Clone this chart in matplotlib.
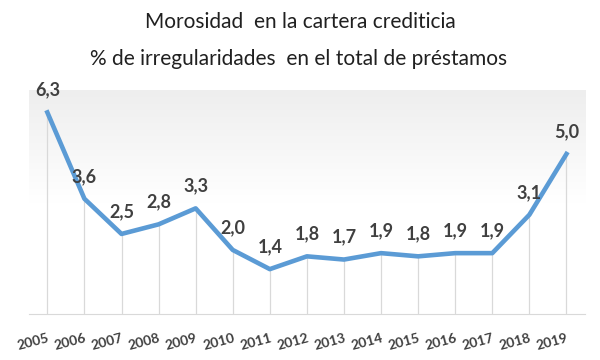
import numpy as np
import matplotlib
matplotlib.use("Agg")
import matplotlib.pyplot as plt
from matplotlib.colors import LinearSegmentedColormap

years = ["2005", "2006", "2007", "2008", "2009", "2010", "2011", "2012",
         "2013", "2014", "2015", "2016", "2017", "2018", "2019"]
values = [6.3, 3.6, 2.5, 2.8, 3.3, 2.0, 1.4, 1.8, 1.7, 1.9, 1.8, 1.9, 1.9, 3.1, 5.0]
title_lines = ["Morosidad  en la cartera crediticia",
               "% de irregularidades  en el total de préstamos"]

plt.rcParams['font.family'] = ['Lato', 'DejaVu Sans']

fig = plt.figure(figsize=(6, 3.6), dpi=100)
ax = fig.add_axes([0.048, 0.128, 0.927, 0.622])
x = np.arange(len(years))
ax.set_xlim(-0.5, len(years) - 0.5)

# gradient background
cmap = LinearSegmentedColormap.from_list("bg", ["#ffffff", "#ffffff", "#eeeeee"])
grad = np.linspace(0, 1, 256).reshape(-1, 1)
ax.imshow(grad, aspect='auto', cmap=cmap, extent=(-0.5, len(years) - 0.5, 7, 0),
          origin='upper', zorder=0)
ax.set_ylim(0, 7)

# drop lines
ax.vlines(x, 0, values, color="#d9d9d9", lw=0.9, zorder=1)

ax.plot(x, values, color="#5B9BD5", lw=3.3, solid_joinstyle='round', zorder=3)

for xi, v in zip(x, values):
    ax.annotate(f"{v:.1f}".replace(".", ","), (xi, v), xytext=(0, 10),
                textcoords="offset points", ha="center", va="bottom",
                fontsize=13, fontweight="bold", color="#404040", zorder=4)

for s in ["left", "right", "top"]:
    ax.spines[s].set_visible(False)
ax.spines["bottom"].set_color("#d9d9d9")
ax.set_yticks([])
ax.set_xticks(x)
ax.set_xticklabels(years, rotation=15, ha="right", rotation_mode="anchor",
                   fontsize=10, fontweight="bold", color="#404040")
ax.tick_params(axis="x", length=0, pad=13)

fig.text(0.5, 1 - 28 / 360, title_lines[0], ha="center", va="baseline",
         fontsize=15, color="#202020")
fig.text(0.497, 1 - 65 / 360, title_lines[1], ha="center", va="baseline",
         fontsize=15, color="#202020")

fig.savefig("out.png", dpi=100)
